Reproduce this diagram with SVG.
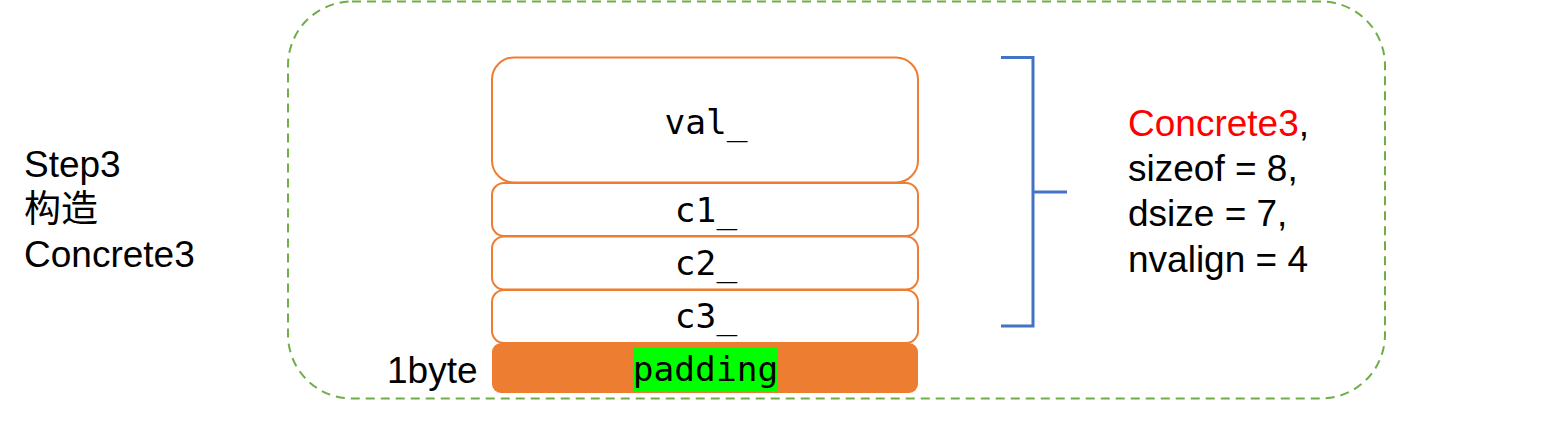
<svg xmlns="http://www.w3.org/2000/svg" width="1562" height="445" viewBox="0 0 1562 445">
<style>
.sans{font-family:"Liberation Sans","Noto Sans CJK SC",Arial,sans-serif;font-size:37px;fill:#000}
.mono{font-family:"DejaVu Sans Mono","Liberation Mono",monospace;font-size:34.5px;fill:#000;text-anchor:middle}
.box{fill:#fff;stroke:#ED7D31;stroke-width:2}
.conn{fill:none;stroke:#4472C4;stroke-width:3}
</style>
<rect x="288" y="1.5" width="1097" height="397" rx="64" fill="none" stroke="#70AD47" stroke-width="2" stroke-dasharray="9,6"/>
<g id="label-left">
<text class="sans" x="24" y="177">Step3</text>
<text class="sans" x="24" y="222">构造</text>
<text class="sans" x="24" y="267">Concrete3</text>
</g>
<g id="val">
<rect class="box" x="492" y="57.5" width="426" height="125" rx="22"/>
<text class="mono" x="706" y="134">val_</text>
</g>
<g id="c1">
<rect class="box" x="492" y="183" width="426" height="53" rx="12"/>
<text class="mono" x="706" y="222">c1_</text>
</g>
<g id="c2">
<rect class="box" x="492" y="236.5" width="426" height="53" rx="12"/>
<text class="mono" x="706" y="275">c2_</text>
</g>
<g id="c3">
<rect class="box" x="492" y="290" width="426" height="53" rx="12"/>
<text class="mono" x="706" y="328">c3_</text>
</g>
<g id="padding">
<rect x="492" y="343" width="426" height="50" rx="9" fill="#ED7D31"/>
<rect x="634" y="347" width="143" height="44" fill="#00FF00"/>
<text class="mono" x="705.5" y="381">padding</text>
<text class="sans" x="387" y="383">1byte</text>
</g>
<g id="connectors">
<path class="conn" d="M1001,57.5 H1033 V326 H1001 M1033,192 H1067"/>
</g>
<g id="summary">
<text class="sans" x="1128" y="136"><tspan fill="#FF0000">Concrete3</tspan>,</text>
<text class="sans" x="1128" y="181">sizeof = 8,</text>
<text class="sans" x="1128" y="226">dsize = 7,</text>
<text class="sans" x="1128" y="272">nvalign = 4</text>
</g>
</svg>
